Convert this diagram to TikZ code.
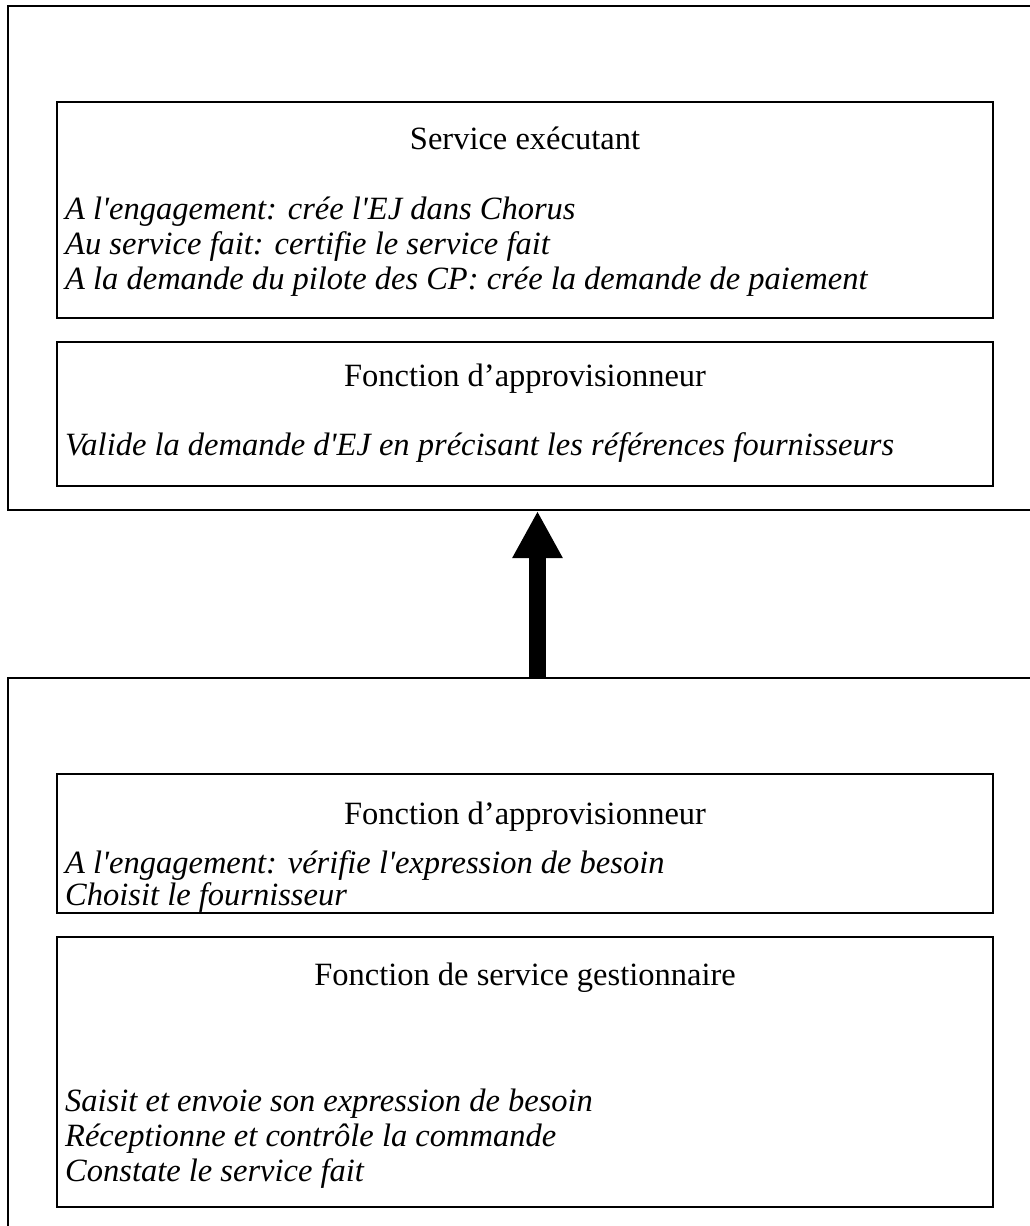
\documentclass[tikz,border=0pt]{standalone}
\usepackage{fontspec}
\setmainfont{Liberation Serif}[Ligatures=TeXOff]
\usetikzlibrary{arrows.meta,positioning}
\newcommand{\taille}{\fontsize{32.5}{35}\selectfont}
\tikzset{
  cadre/.style={draw, line width=2pt, fill=white, inner sep=0pt},
  boite/.style={cadre, minimum width=936pt},
  titre/.style={inner sep=0pt, anchor=center, font=\taille},
  ligne/.style={inner sep=0pt, anchor=west, font=\taille\itshape},
  fleche/.style={line width=17pt, -{Triangle[length=47pt,width=47pt]}},
}
\begin{document}
\begin{tikzpicture}[x=1pt,y=-1pt]
\useasboundingbox (0,0) rectangle (1030,1226);
\clip (0,0) rectangle (1030,1226);
\node[cadre, minimum width=1059pt, minimum height=504pt] (haut) at (537.5,258){};
\node[cadre, minimum width=1059pt, minimum height=600pt] (bas) at (537.5,978){};
\draw[fleche] (bas.north) -- (haut.south);
\node[boite, minimum height=216pt] (exec) at (525,210){};
\node[titre] (exectitre) at (525,138){Service exécutant};
\node[ligne] (exec1) at (65,212){A l'engagement: crée l'EJ dans Chorus};
\node[ligne] (exec2) at (65,247){Au service fait: certifie le service fait};
\node[ligne] (exec3) at (65,282){A la demande du pilote des CP: crée la demande de paiement};
\node[boite, minimum height=144pt] (appro) at (525,414){};
\node[titre] (approtitre) at (525,379){Fonction d’approvisionneur};
\node[ligne] (appro1) at (65,448){Valide la demande d'EJ en précisant les références fournisseurs};
\node[boite, minimum height=139pt] (prescr) at (525,843.5){};
\node[titre] (prescrtitre) at (525,817){Fonction d’approvisionneur};
\node[ligne] (prescr1) at (65,866){A l'engagement: vérifie l'expression de besoin};
\node[ligne] (prescr2) at (65,898){Choisit le fournisseur};
\node[boite, minimum height=270pt] (gest) at (525,1072){};
\node[titre] (gesttitre) at (525,978){Fonction de service gestionnaire};
\node[ligne] (gest1) at (65,1104){Saisit et envoie son expression de besoin};
\node[ligne] (gest2) at (65,1139){Réceptionne et contrôle la commande};
\node[ligne] (gest3) at (65,1174){Constate le service fait};
\end{tikzpicture}
\end{document}
